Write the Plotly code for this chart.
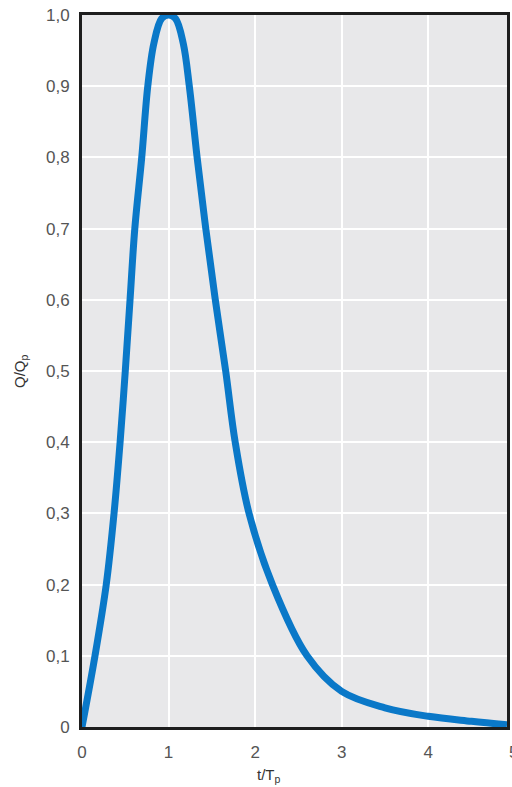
import plotly.graph_objects as go

# Dimensionless unit hydrograph: t/Tp against Q/Qp
t_ratio = [0.0, 0.15, 0.28, 0.37, 0.44, 0.50, 0.555, 0.61, 0.69, 0.76, 0.83, 0.92, 1.00,
           1.08, 1.17, 1.24, 1.33, 1.43, 1.54, 1.66, 1.77, 1.93, 2.20, 2.60, 3.00,
           3.50, 4.00, 4.50, 4.91]
q_ratio = [0.0, 0.10, 0.20, 0.30, 0.40, 0.50, 0.60, 0.70, 0.80, 0.90, 0.96, 0.995, 1.00,
           0.995, 0.96, 0.90, 0.80, 0.70, 0.60, 0.50, 0.40, 0.30, 0.20, 0.10, 0.050,
           0.027, 0.015, 0.008, 0.003]

x_ticks = [0, 1, 2, 3, 4]
y_ticks = [0, 0.1, 0.2, 0.3, 0.4, 0.5, 0.6, 0.7, 0.8, 0.9, 1.0]
y_tick_text = ["0", "0,1", "0,2", "0,3", "0,4", "0,5", "0,6", "0,7", "0,8", "0,9", "1,0"]

tick_font = dict(family="Liberation Sans, Arial, sans-serif", size=17, color="#555555")
title_font = dict(family="Liberation Sans, Arial, sans-serif", size=15, color="#333333")

fig = go.Figure()
fig.add_trace(go.Scatter(
    x=t_ratio, y=q_ratio, mode="lines",
    line=dict(color="#0a78c8", width=7, shape="spline", smoothing=1.0),
    hoverinfo="skip", showlegend=False,
))

fig.update_layout(
    width=512, height=787,
    margin=dict(l=82, r=2, t=15, b=60),
    paper_bgcolor="white",
    plot_bgcolor="#e8e8ea",
    font=tick_font,
)
fig.update_xaxes(
    range=[0, 4.91], tickvals=x_ticks, ticktext=[str(v) for v in x_ticks],
    showgrid=True, gridcolor="white", gridwidth=2,
    showline=True, linecolor="#1e1e1e", linewidth=3, mirror=True,
    ticks="", ticklabelstandoff=8, tickfont=tick_font, zeroline=False,
)
fig.update_yaxes(
    range=[0, 1.0], tickvals=y_ticks, ticktext=y_tick_text,
    showgrid=True, gridcolor="white", gridwidth=2,
    showline=True, linecolor="#1e1e1e", linewidth=3, mirror=True,
    ticks="", ticklabelstandoff=6, tickfont=tick_font, zeroline=False,
)

# Last x tick label sits just past the right edge of the plot
fig.add_annotation(x=1.016, y=0, xref="paper", yref="paper", yshift=-25,
                   text="5", showarrow=False, font=tick_font,
                   xanchor="center", yanchor="middle")
# Axis titles
fig.add_annotation(x=0.44, y=0, xref="paper", yref="paper", yshift=-48,
                   text="t/T<sub>p</sub>", showarrow=False,
                   xanchor="center", yanchor="middle", font=title_font)
fig.add_annotation(x=0, y=0.5, xref="paper", yref="paper", xshift=-62,
                   text="Q/Q<sub>p</sub>", showarrow=False, textangle=-90,
                   xanchor="center", yanchor="middle", font=title_font)

fig.write_html("out.html")
